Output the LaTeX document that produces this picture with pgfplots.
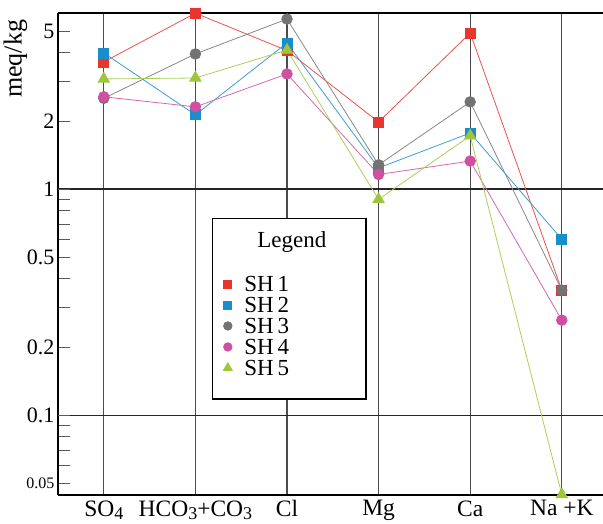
\documentclass[border=0pt]{standalone}
\usepackage{fontspec}
\setmainfont{Liberation Serif}
\usepackage{pgfplots}
\pgfplotsset{compat=1.18}
\definecolor{cSHa}{HTML}{E8352D}
\definecolor{cSHb}{HTML}{1A8DCB}
\definecolor{cSHc}{HTML}{737373}
\definecolor{cSHd}{HTML}{CF4FA0}
\definecolor{cSHe}{HTML}{9FC53A}
\newcommand\sub[1]{\raisebox{-0.3ex}{\fontsize{18}{18}\selectfont #1}}
\newcommand\fs{\fontsize{22}{24}\selectfont}
\begin{document}
\begin{tikzpicture}
\begin{axis}[
  scale only axis, width=545pt, height=482pt,
  ymode=log, ymin=0.0443, ymax=6.01,
  xmin=-0.5, xmax=5.45,
  clip=false,
  axis x line*=box, axis y line*=left,
  axis line style={black, line width=1.5pt},
  xtick={0,...,5},
  xticklabels={SO\sub{4}, HCO\sub{3}+CO\sub{3}, Cl, Mg, Ca, Na +K},
  xticklabel style={font=\fontsize{23.5}{25}\selectfont, yshift=-2pt},
  x tick style={draw=none},
  xmajorgrids,
  major grid style={color=black!70, line width=1.2pt},
  ytick={0.05,0.1,0.2,0.5,1,2,5},
  yticklabels={{\fontsize{16}{16}\selectfont 0.05},0.1,0.2,0.5,1,2,5},
  minor ytick={0.06,0.07,0.08,0.09,0.3,0.4,0.6,0.7,0.8,0.9,3,4},
  yticklabel style={font=\fs},
  tick align=inside, major tick length=12pt, minor tick length=12pt,
  y tick style={black!65, line width=1pt},
  extra y ticks={0.1,1}, extra y tick labels={},
  extra y tick style={grid=major, major grid style={black!85, line width=1.1pt}},
  ylabel={meq/kg},
  ylabel style={font=\fontsize{26}{28}\selectfont, at={(rel axis cs:-0.05,0.905)}, anchor=south},
  legend image code/.code={\draw[#1, only marks, every mark/.append style={scale=0.8}] plot coordinates {(0pt,0pt)};},
  legend style={at={(rel axis cs:0.2975,0.4585)}, anchor=north west, draw=none, fill=none,
    font=\fontsize{23}{24}\selectfont, row sep=5.5pt, column sep=12pt,
    nodes={inner sep=0pt, text height=15.5pt, text depth=0pt},
    cells={anchor=west}},
]
\coordinate (sw) at (rel axis cs:0,0);
\coordinate (ne) at (rel axis cs:1,1);
\draw[black, line width=1.3pt, fill=white] (rel axis cs:0.284,0.199) rectangle (rel axis cs:0.565,0.573);
\node[font=\fontsize{23}{24}\selectfont] at (rel axis cs:0.429,0.525) {Legend};

\addplot[cSHa!85, line width=0.8pt, mark=square*, mark size=5pt, mark options={solid, fill=cSHa, draw=cSHa}]
  coordinates {(0,3.65)(1,6.0)(2,4.1)(3,1.98)(4,4.9)(5,0.357)};
\addplot[cSHb!85, line width=0.8pt, mark=square*, mark size=5pt, mark options={solid, fill=cSHb, draw=cSHb}]
  coordinates {(0,4.0)(1,2.13)(2,4.43)(3,1.24)(4,1.77)(5,0.60)};
\addplot[cSHc!85, line width=0.8pt, mark=*, mark size=5.3pt, mark options={solid, fill=cSHc, draw=cSHc}]
  coordinates {(0,2.52)(1,3.96)(2,5.65)(3,1.28)(4,2.43)(5,0.357)};
\addplot[cSHd!85, line width=0.8pt, mark=*, mark size=5.3pt, mark options={solid, fill=cSHd, draw=cSHd}]
  coordinates {(0,2.56)(1,2.31)(2,3.23)(3,1.16)(4,1.33)(5,0.263)};
\addplot[cSHe!85, line width=0.8pt, mark=triangle*, mark size=6.5pt, mark options={solid, fill=cSHe, draw=cSHe}]
  coordinates {(0,3.07)(1,3.10)(2,4.12)(3,0.90)(4,1.72)(5,0.0445)};
\legend{SH\,1, SH\,2, SH\,3, SH\,4, SH\,5}
\end{axis}
\pgfresetboundingbox
\path[use as bounding box] ([shift={(-58pt,-29pt)}]sw) rectangle ([shift={(0pt,13pt)}]ne);
\end{tikzpicture}
\end{document}
